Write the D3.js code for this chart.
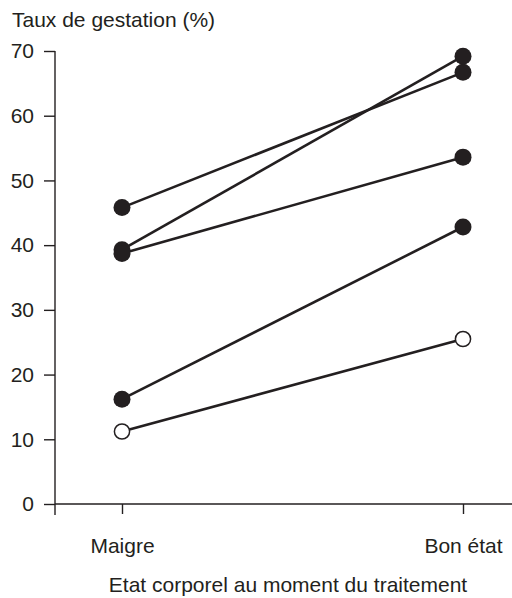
<!DOCTYPE html>
<html>
<head>
<meta charset="utf-8">
<script src="https://cdn.jsdelivr.net/npm/d3@7"></script>
<style>
  html, body { margin: 0; padding: 0; background: #fff; }
  svg { display: block; }
  text { font-family: "Liberation Sans", Arial, sans-serif; fill: #231f20; }
</style>
</head>
<body>
<script>
// Data
const categories = ["Maigre", "Bon état"];
const maigreValues = [45.8, 39.3, 38.7, 16.2, 11.2];
const bonEtatValues = [66.7, 69.2, 53.6, 42.8, 25.5];
const openMarker = [false, false, false, false, true];
const yTicks = [0, 10, 20, 30, 40, 50, 60, 70];
const yTitle = "Taux de gestation (%)";
const xTitle = "Etat corporel au moment du traitement";

const W = 512, H = 598;
const ink = "#231f20";
const fontSize = 21;

const svg = d3.select("body").append("svg").attr("width", W).attr("height", H);

const y = d3.scaleLinear().domain([0, 70]).range([504, 51]);
const x = d3.scalePoint().domain(categories).range([122, 463]);
const axisX0 = 55, axisX1 = 512;

// Y axis
const yAxis = d3.axisLeft(y).tickValues(yTicks).tickSize(11).tickSizeOuter(0).tickPadding(10);
const gy = svg.append("g").attr("transform", `translate(${axisX0},0)`).call(yAxis);
gy.select(".domain").remove();
gy.selectAll(".tick line").attr("stroke", ink).attr("stroke-width", 1.4);
gy.selectAll(".tick text").attr("fill", ink).style("font-size", fontSize + "px")
  .style("font-family", '"Liberation Sans", Arial, sans-serif');
svg.append("line").attr("x1", axisX0).attr("x2", axisX0)
  .attr("y1", y(70)).attr("y2", y(0) + 11)
  .attr("stroke", ink).attr("stroke-width", 1.4);

// X axis
const xAxis = d3.axisBottom(x).tickSize(10).tickSizeOuter(0).tickPadding(24);
const gx = svg.append("g").attr("transform", `translate(0,${y(0)})`).call(xAxis);
gx.select(".domain").remove();
gx.selectAll(".tick line").attr("stroke", ink).attr("stroke-width", 1.4);
gx.selectAll(".tick text").attr("fill", ink).style("font-size", fontSize + "px")
  .style("font-family", '"Liberation Sans", Arial, sans-serif');
svg.append("line").attr("x1", axisX0).attr("x2", axisX1)
  .attr("y1", y(0)).attr("y2", y(0))
  .attr("stroke", ink).attr("stroke-width", 1.4);

// Titles
svg.append("text").attr("x", 12).attr("y", 27).style("font-size", fontSize + "px").text(yTitle);
svg.append("text").attr("x", 288).attr("y", 592).attr("text-anchor", "middle")
  .style("font-size", fontSize + "px").text(xTitle);

// Lines
const pairs = maigreValues.map((v, i) => ({ a: v, b: bonEtatValues[i], open: openMarker[i] }));
svg.append("g").selectAll("line").data(pairs).join("line")
  .attr("x1", x(categories[0])).attr("y1", d => y(d.a))
  .attr("x2", x(categories[1])).attr("y2", d => y(d.b))
  .attr("stroke", ink).attr("stroke-width", 2.6);

// Markers
const pts = [];
pairs.forEach(d => {
  pts.push({ cx: x(categories[0]), v: d.a, open: d.open });
  pts.push({ cx: x(categories[1]), v: d.b, open: d.open });
});
svg.append("g").selectAll("circle").data(pts).join("circle")
  .attr("cx", d => d.cx).attr("cy", d => y(d.v))
  .attr("r", d => d.open ? 7.6 : 8.5)
  .attr("fill", d => d.open ? "#fff" : ink)
  .attr("stroke", ink).attr("stroke-width", d => d.open ? 1.5 : 0);
</script>
</body>
</html>
